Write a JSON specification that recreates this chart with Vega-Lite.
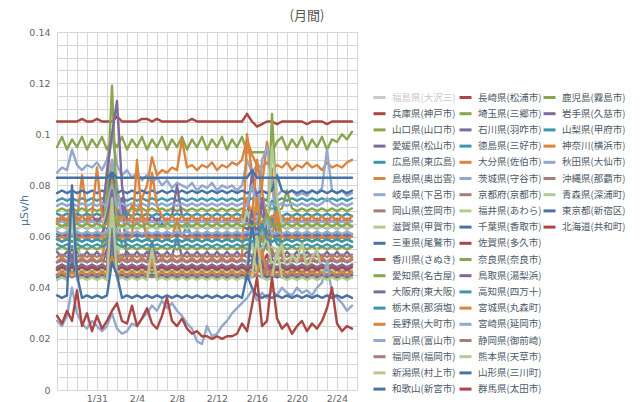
{
"$schema":"https://vega.github.io/schema/vega-lite/v6.json",
"autosize":{"type":"none"},
"padding":{"left":57,"top":32,"right":283,"bottom":12},
"width":300,"height":358,
"background":"white",
"config":{"view":{"stroke":null},"font":"DejaVu Sans"},
"title":{"text":"(月間)","frame":"group","anchor":"middle","dx":100,"offset":4,"font":"Noto Sans CJK JP","fontSize":13,"fontWeight":"normal","color":"#555555"},
"datasets":{
"names":[{"k":"a","name":"兵庫県(神戸市)"},{"k":"b","name":"山口県(山口市)"},{"k":"c","name":"愛媛県(松山市)"},{"k":"d","name":"広島県(東広島)"},{"k":"e","name":"島根県(奥出雲)"},{"k":"f","name":"岐阜県(下呂市)"},{"k":"g","name":"岡山県(笠岡市)"},{"k":"h","name":"滋賀県(甲賀市)"},{"k":"i","name":"三重県(尾鷲市)"},{"k":"j","name":"香川県(さぬき)"},{"k":"k","name":"愛知県(名古屋)"},{"k":"l","name":"大阪府(東大阪)"},{"k":"m","name":"栃木県(那須塩)"},{"k":"n","name":"長野県(大町市)"},{"k":"o","name":"富山県(富山市)"},{"k":"p","name":"福岡県(福岡市)"},{"k":"q","name":"新潟県(村上市)"},{"k":"r","name":"和歌山(新宮市)"},{"k":"s","name":"長崎県(松浦市)"},{"k":"t","name":"埼玉県(三郷市)"},{"k":"u","name":"石川県(羽咋市)"},{"k":"v","name":"徳島県(三好市)"},{"k":"w","name":"大分県(佐伯市)"},{"k":"x","name":"茨城県(守谷市)"},{"k":"y","name":"京都府(京都市)"},{"k":"z","name":"福井県(あわら)"},{"k":"A","name":"千葉県(香取市)"},{"k":"B","name":"佐賀県(多久市)"},{"k":"C","name":"奈良県(奈良市)"},{"k":"D","name":"鳥取県(湯梨浜)"},{"k":"E","name":"高知県(四万十)"},{"k":"F","name":"宮城県(丸森町)"},{"k":"G","name":"宮崎県(延岡市)"},{"k":"H","name":"静岡県(御前崎)"},{"k":"I","name":"熊本県(天草市)"},{"k":"J","name":"山形県(三川町)"},{"k":"K","name":"群馬県(太田市)"},{"k":"L","name":"鹿児島(霧島市)"},{"k":"M","name":"岩手県(久慈市)"},{"k":"N","name":"山梨県(甲府市)"},{"k":"O","name":"神奈川(横浜市)"},{"k":"P","name":"秋田県(大仙市)"},{"k":"Q","name":"沖縄県(那覇市)"},{"k":"R","name":"青森県(深浦町)"},{"k":"S","name":"東京都(新宿区)"},{"k":"T","name":"北海道(共和町)"}],
"rad":[
{"day":27,"a":0.047,"b":0.095,"c":0.054,"d":0.074,"e":0.065,"f":0.085,"g":0.067,"h":0.045,"i":0.063,"j":0.105,"k":0.07,"l":0.05,"m":0.061,"n":0.05,"o":0.065,"p":0.047,"q":0.055,"r":0.077,"s":0.045,"t":0.055,"u":0.066,"v":0.069,"w":0.066,"x":0.072,"y":0.052,"z":0.063,"A":0.083,"B":0.048,"C":0.059,"D":0.06,"E":0.057,"F":0.059,"G":0.062,"H":0.05,"I":0.047,"J":0.044,"K":0.047,"L":0.065,"M":0.048,"N":0.059,"O":0.045,"P":0.027,"Q":0.045,"R":0.043,"S":0.037,"T":0.029},
{"day":27.5,"a":0.049,"b":0.099,"c":0.052,"d":0.075,"e":0.067,"f":0.087,"g":0.066,"h":0.047,"i":0.064,"j":0.105,"k":0.071,"l":0.051,"m":0.06,"n":0.052,"o":0.066,"p":0.046,"q":0.056,"r":0.078,"s":0.046,"t":0.056,"u":0.068,"v":0.068,"w":0.068,"x":0.073,"y":0.053,"z":0.064,"A":0.083,"B":0.049,"C":0.058,"D":0.061,"E":0.056,"F":0.06,"G":0.061,"H":0.051,"I":0.045,"J":0.045,"K":0.048,"L":0.064,"M":0.049,"N":0.058,"O":0.046,"P":0.025,"Q":0.044,"R":0.044,"S":0.036,"T":0.026},
{"day":28,"a":0.047,"b":0.094,"c":0.054,"d":0.074,"e":0.064,"f":0.086,"g":0.067,"h":0.045,"i":0.063,"j":0.105,"k":0.07,"l":0.05,"m":0.061,"n":0.05,"o":0.065,"p":0.047,"q":0.055,"r":0.077,"s":0.045,"t":0.055,"u":0.066,"v":0.069,"w":0.066,"x":0.072,"y":0.052,"z":0.063,"A":0.083,"B":0.048,"C":0.059,"D":0.06,"E":0.057,"F":0.059,"G":0.062,"H":0.05,"I":0.047,"J":0.044,"K":0.047,"L":0.065,"M":0.048,"N":0.059,"O":0.045,"P":0.029,"Q":0.045,"R":0.043,"S":0.037,"T":0.031},
{"day":28.5,"a":0.049,"b":0.098,"c":0.052,"d":0.075,"e":0.07,"f":0.094,"g":0.066,"h":0.047,"i":0.064,"j":0.105,"k":0.071,"l":0.056,"m":0.06,"n":0.052,"o":0.066,"p":0.046,"q":0.056,"r":0.078,"s":0.046,"t":0.056,"u":0.068,"v":0.068,"w":0.072,"x":0.073,"y":0.053,"z":0.064,"A":0.083,"B":0.049,"C":0.058,"D":0.061,"E":0.056,"F":0.066,"G":0.061,"H":0.051,"I":0.045,"J":0.05,"K":0.048,"L":0.064,"M":0.053,"N":0.058,"O":0.046,"P":0.04,"Q":0.044,"R":0.07,"S":0.08,"T":0.027},
{"day":29,"a":0.047,"b":0.095,"c":0.054,"d":0.074,"e":0.066,"f":0.088,"g":0.067,"h":0.06,"i":0.063,"j":0.105,"k":0.07,"l":0.05,"m":0.061,"n":0.05,"o":0.065,"p":0.047,"q":0.055,"r":0.077,"s":0.045,"t":0.055,"u":0.066,"v":0.069,"w":0.066,"x":0.072,"y":0.052,"z":0.063,"A":0.083,"B":0.048,"C":0.059,"D":0.06,"E":0.057,"F":0.059,"G":0.062,"H":0.05,"I":0.047,"J":0.044,"K":0.047,"L":0.065,"M":0.048,"N":0.059,"O":0.045,"P":0.03,"Q":0.045,"R":0.043,"S":0.045,"T":0.039},
{"day":29.5,"a":0.049,"b":0.099,"c":0.052,"d":0.075,"e":0.084,"f":0.086,"g":0.066,"h":0.047,"i":0.064,"j":0.106,"k":0.071,"l":0.051,"m":0.06,"n":0.052,"o":0.066,"p":0.046,"q":0.056,"r":0.078,"s":0.046,"t":0.056,"u":0.068,"v":0.068,"w":0.068,"x":0.073,"y":0.053,"z":0.064,"A":0.083,"B":0.049,"C":0.058,"D":0.061,"E":0.056,"F":0.06,"G":0.061,"H":0.051,"I":0.045,"J":0.045,"K":0.048,"L":0.064,"M":0.049,"N":0.058,"O":0.046,"P":0.026,"Q":0.044,"R":0.044,"S":0.036,"T":0.025},
{"day":30,"a":0.047,"b":0.094,"c":0.054,"d":0.074,"e":0.068,"f":0.088,"g":0.067,"h":0.045,"i":0.063,"j":0.105,"k":0.07,"l":0.05,"m":0.061,"n":0.05,"o":0.065,"p":0.047,"q":0.055,"r":0.077,"s":0.045,"t":0.055,"u":0.066,"v":0.069,"w":0.066,"x":0.072,"y":0.052,"z":0.063,"A":0.083,"B":0.048,"C":0.059,"D":0.06,"E":0.057,"F":0.059,"G":0.062,"H":0.05,"I":0.047,"J":0.044,"K":0.047,"L":0.065,"M":0.048,"N":0.059,"O":0.045,"P":0.024,"Q":0.045,"R":0.043,"S":0.037,"T":0.03},
{"day":30.5,"a":0.049,"b":0.098,"c":0.052,"d":0.075,"e":0.066,"f":0.087,"g":0.066,"h":0.047,"i":0.064,"j":0.105,"k":0.071,"l":0.051,"m":0.06,"n":0.052,"o":0.066,"p":0.046,"q":0.056,"r":0.078,"s":0.046,"t":0.056,"u":0.068,"v":0.068,"w":0.068,"x":0.073,"y":0.053,"z":0.064,"A":0.083,"B":0.049,"C":0.058,"D":0.061,"E":0.056,"F":0.06,"G":0.061,"H":0.051,"I":0.045,"J":0.045,"K":0.048,"L":0.064,"M":0.049,"N":0.058,"O":0.046,"P":0.027,"Q":0.044,"R":0.044,"S":0.036,"T":0.023},
{"day":31,"a":0.047,"b":0.095,"c":0.054,"d":0.074,"e":0.065,"f":0.089,"g":0.067,"h":0.045,"i":0.063,"j":0.106,"k":0.07,"l":0.05,"m":0.061,"n":0.05,"o":0.065,"p":0.047,"q":0.055,"r":0.077,"s":0.045,"t":0.055,"u":0.066,"v":0.069,"w":0.087,"x":0.072,"y":0.052,"z":0.063,"A":0.083,"B":0.048,"C":0.059,"D":0.06,"E":0.057,"F":0.059,"G":0.062,"H":0.05,"I":0.047,"J":0.044,"K":0.047,"L":0.065,"M":0.048,"N":0.059,"O":0.045,"P":0.025,"Q":0.045,"R":0.043,"S":0.037,"T":0.029},
{"day":31.5,"a":0.049,"b":0.099,"c":0.052,"d":0.075,"e":0.068,"f":0.086,"g":0.066,"h":0.047,"i":0.064,"j":0.105,"k":0.071,"l":0.051,"m":0.06,"n":0.052,"o":0.066,"p":0.046,"q":0.056,"r":0.078,"s":0.046,"t":0.056,"u":0.068,"v":0.068,"w":0.068,"x":0.073,"y":0.053,"z":0.064,"A":0.083,"B":0.049,"C":0.058,"D":0.061,"E":0.056,"F":0.06,"G":0.061,"H":0.051,"I":0.045,"J":0.045,"K":0.048,"L":0.064,"M":0.049,"N":0.058,"O":0.046,"P":0.023,"Q":0.044,"R":0.044,"S":0.036,"T":0.024},
{"day":32,"a":0.055,"b":0.094,"c":0.054,"d":0.074,"e":0.075,"f":0.09,"g":0.067,"h":0.088,"i":0.063,"j":0.105,"k":0.07,"l":0.05,"m":0.061,"n":0.06,"o":0.065,"p":0.047,"q":0.07,"r":0.077,"s":0.045,"t":0.075,"u":0.085,"v":0.069,"w":0.066,"x":0.072,"y":0.052,"z":0.07,"A":0.083,"B":0.048,"C":0.059,"D":0.068,"E":0.057,"F":0.059,"G":0.062,"H":0.05,"I":0.047,"J":0.044,"K":0.047,"L":0.065,"M":0.048,"N":0.059,"O":0.045,"P":0.025,"Q":0.045,"R":0.043,"S":0.037,"T":0.027},
{"day":32.5,"a":0.058,"b":0.098,"c":0.068,"d":0.085,"e":0.09,"f":0.1,"g":0.075,"h":0.07,"i":0.064,"j":0.105,"k":0.08,"l":0.07,"m":0.066,"n":0.075,"o":0.09,"p":0.055,"q":0.065,"r":0.085,"s":0.052,"t":0.119,"u":0.1,"v":0.075,"w":0.082,"x":0.08,"y":0.06,"z":0.078,"A":0.085,"B":0.053,"C":0.064,"D":0.078,"E":0.06,"F":0.07,"G":0.066,"H":0.054,"I":0.065,"J":0.06,"K":0.05,"L":0.07,"M":0.062,"N":0.063,"O":0.052,"P":0.03,"Q":0.05,"R":0.075,"S":0.05,"T":0.031},
{"day":33,"a":0.052,"b":0.095,"c":0.054,"d":0.074,"e":0.078,"f":0.088,"g":0.067,"h":0.058,"i":0.063,"j":0.107,"k":0.07,"l":0.065,"m":0.061,"n":0.05,"o":0.08,"p":0.047,"q":0.055,"r":0.077,"s":0.045,"t":0.07,"u":0.113,"v":0.069,"w":0.066,"x":0.072,"y":0.052,"z":0.063,"A":0.083,"B":0.048,"C":0.059,"D":0.06,"E":0.057,"F":0.059,"G":0.062,"H":0.05,"I":0.047,"J":0.044,"K":0.047,"L":0.065,"M":0.048,"N":0.059,"O":0.045,"P":0.024,"Q":0.045,"R":0.043,"S":0.045,"T":0.034},
{"day":33.5,"a":0.049,"b":0.099,"c":0.052,"d":0.075,"e":0.07,"f":0.084,"g":0.066,"h":0.047,"i":0.064,"j":0.105,"k":0.071,"l":0.075,"m":0.06,"n":0.052,"o":0.066,"p":0.046,"q":0.056,"r":0.078,"s":0.046,"t":0.056,"u":0.08,"v":0.068,"w":0.068,"x":0.073,"y":0.053,"z":0.064,"A":0.083,"B":0.049,"C":0.058,"D":0.061,"E":0.056,"F":0.06,"G":0.061,"H":0.051,"I":0.045,"J":0.045,"K":0.048,"L":0.064,"M":0.049,"N":0.058,"O":0.046,"P":0.022,"Q":0.044,"R":0.044,"S":0.036,"T":0.027},
{"day":34,"a":0.047,"b":0.094,"c":0.054,"d":0.074,"e":0.068,"f":0.086,"g":0.067,"h":0.045,"i":0.063,"j":0.105,"k":0.07,"l":0.05,"m":0.061,"n":0.05,"o":0.065,"p":0.047,"q":0.055,"r":0.077,"s":0.045,"t":0.055,"u":0.066,"v":0.069,"w":0.066,"x":0.072,"y":0.052,"z":0.063,"A":0.083,"B":0.048,"C":0.059,"D":0.06,"E":0.057,"F":0.059,"G":0.062,"H":0.05,"I":0.047,"J":0.044,"K":0.047,"L":0.065,"M":0.048,"N":0.059,"O":0.045,"P":0.023,"Q":0.045,"R":0.043,"S":0.037,"T":0.026},
{"day":34.5,"a":0.049,"b":0.098,"c":0.052,"d":0.075,"e":0.072,"f":0.083,"g":0.066,"h":0.047,"i":0.064,"j":0.105,"k":0.071,"l":0.051,"m":0.06,"n":0.052,"o":0.066,"p":0.046,"q":0.056,"r":0.078,"s":0.046,"t":0.056,"u":0.068,"v":0.068,"w":0.068,"x":0.073,"y":0.053,"z":0.064,"A":0.083,"B":0.049,"C":0.058,"D":0.061,"E":0.056,"F":0.06,"G":0.061,"H":0.051,"I":0.045,"J":0.045,"K":0.048,"L":0.064,"M":0.049,"N":0.058,"O":0.046,"P":0.026,"Q":0.044,"R":0.044,"S":0.036,"T":0.033},
{"day":35,"a":0.047,"b":0.095,"c":0.054,"d":0.074,"e":0.07,"f":0.085,"g":0.067,"h":0.045,"i":0.063,"j":0.105,"k":0.07,"l":0.05,"m":0.061,"n":0.05,"o":0.065,"p":0.047,"q":0.055,"r":0.077,"s":0.045,"t":0.055,"u":0.066,"v":0.069,"w":0.066,"x":0.072,"y":0.052,"z":0.063,"A":0.083,"B":0.048,"C":0.059,"D":0.06,"E":0.057,"F":0.09,"G":0.062,"H":0.05,"I":0.047,"J":0.044,"K":0.047,"L":0.065,"M":0.048,"N":0.059,"O":0.045,"P":0.025,"Q":0.045,"R":0.043,"S":0.037,"T":0.025},
{"day":35.5,"a":0.049,"b":0.099,"c":0.052,"d":0.075,"e":0.075,"f":0.082,"g":0.066,"h":0.047,"i":0.064,"j":0.106,"k":0.071,"l":0.051,"m":0.06,"n":0.052,"o":0.066,"p":0.046,"q":0.056,"r":0.078,"s":0.046,"t":0.056,"u":0.068,"v":0.068,"w":0.068,"x":0.073,"y":0.053,"z":0.064,"A":0.083,"B":0.049,"C":0.058,"D":0.061,"E":0.056,"F":0.068,"G":0.061,"H":0.051,"I":0.045,"J":0.045,"K":0.048,"L":0.064,"M":0.049,"N":0.058,"O":0.046,"P":0.028,"Q":0.044,"R":0.044,"S":0.036,"T":0.028},
{"day":36,"a":0.047,"b":0.094,"c":0.054,"d":0.074,"e":0.08,"f":0.084,"g":0.067,"h":0.045,"i":0.063,"j":0.106,"k":0.07,"l":0.05,"m":0.061,"n":0.05,"o":0.065,"p":0.047,"q":0.055,"r":0.077,"s":0.045,"t":0.055,"u":0.066,"v":0.069,"w":0.066,"x":0.072,"y":0.052,"z":0.063,"A":0.083,"B":0.048,"C":0.059,"D":0.06,"E":0.057,"F":0.059,"G":0.062,"H":0.05,"I":0.047,"J":0.044,"K":0.047,"L":0.065,"M":0.048,"N":0.059,"O":0.045,"P":0.03,"Q":0.045,"R":0.043,"S":0.037,"T":0.032},
{"day":36.5,"a":0.049,"b":0.098,"c":0.052,"d":0.075,"e":0.091,"f":0.081,"g":0.066,"h":0.047,"i":0.064,"j":0.105,"k":0.071,"l":0.058,"m":0.06,"n":0.052,"o":0.066,"p":0.046,"q":0.056,"r":0.078,"s":0.046,"t":0.056,"u":0.068,"v":0.068,"w":0.085,"x":0.073,"y":0.053,"z":0.064,"A":0.083,"B":0.049,"C":0.058,"D":0.061,"E":0.056,"F":0.06,"G":0.061,"H":0.051,"I":0.045,"J":0.045,"K":0.048,"L":0.064,"M":0.049,"N":0.058,"O":0.05,"P":0.033,"Q":0.044,"R":0.055,"S":0.036,"T":0.026},
{"day":37,"a":0.047,"b":0.095,"c":0.054,"d":0.074,"e":0.084,"f":0.083,"g":0.067,"h":0.045,"i":0.063,"j":0.106,"k":0.07,"l":0.05,"m":0.061,"n":0.05,"o":0.065,"p":0.047,"q":0.055,"r":0.077,"s":0.045,"t":0.055,"u":0.066,"v":0.069,"w":0.072,"x":0.072,"y":0.052,"z":0.063,"A":0.083,"B":0.048,"C":0.059,"D":0.06,"E":0.057,"F":0.059,"G":0.062,"H":0.05,"I":0.047,"J":0.044,"K":0.047,"L":0.065,"M":0.048,"N":0.059,"O":0.045,"P":0.031,"Q":0.045,"R":0.043,"S":0.037,"T":0.024},
{"day":37.5,"a":0.049,"b":0.099,"c":0.052,"d":0.075,"e":0.086,"f":0.08,"g":0.066,"h":0.047,"i":0.065,"j":0.105,"k":0.071,"l":0.051,"m":0.06,"n":0.052,"o":0.066,"p":0.046,"q":0.056,"r":0.078,"s":0.046,"t":0.056,"u":0.068,"v":0.068,"w":0.068,"x":0.073,"y":0.053,"z":0.064,"A":0.083,"B":0.049,"C":0.058,"D":0.061,"E":0.056,"F":0.06,"G":0.061,"H":0.051,"I":0.045,"J":0.045,"K":0.048,"L":0.064,"M":0.049,"N":0.058,"O":0.046,"P":0.035,"Q":0.044,"R":0.044,"S":0.036,"T":0.029},
{"day":38,"a":0.047,"b":0.094,"c":0.054,"d":0.074,"e":0.085,"f":0.082,"g":0.067,"h":0.045,"i":0.063,"j":0.105,"k":0.07,"l":0.05,"m":0.061,"n":0.05,"o":0.065,"p":0.047,"q":0.055,"r":0.077,"s":0.045,"t":0.055,"u":0.066,"v":0.069,"w":0.066,"x":0.072,"y":0.052,"z":0.063,"A":0.083,"B":0.048,"C":0.059,"D":0.06,"E":0.057,"F":0.059,"G":0.062,"H":0.05,"I":0.047,"J":0.044,"K":0.047,"L":0.065,"M":0.048,"N":0.059,"O":0.045,"P":0.032,"Q":0.045,"R":0.043,"S":0.037,"T":0.036},
{"day":38.5,"a":0.049,"b":0.098,"c":0.052,"d":0.075,"e":0.087,"f":0.079,"g":0.066,"h":0.047,"i":0.064,"j":0.105,"k":0.071,"l":0.051,"m":0.06,"n":0.052,"o":0.066,"p":0.046,"q":0.056,"r":0.078,"s":0.046,"t":0.056,"u":0.068,"v":0.068,"w":0.068,"x":0.073,"y":0.053,"z":0.064,"A":0.083,"B":0.049,"C":0.058,"D":0.061,"E":0.056,"F":0.06,"G":0.061,"H":0.051,"I":0.045,"J":0.045,"K":0.048,"L":0.064,"M":0.049,"N":0.058,"O":0.046,"P":0.034,"Q":0.044,"R":0.044,"S":0.036,"T":0.027},
{"day":39,"a":0.047,"b":0.095,"c":0.06,"d":0.074,"e":0.086,"f":0.081,"g":0.067,"h":0.045,"i":0.063,"j":0.105,"k":0.07,"l":0.05,"m":0.061,"n":0.05,"o":0.065,"p":0.047,"q":0.055,"r":0.077,"s":0.045,"t":0.055,"u":0.08,"v":0.069,"w":0.066,"x":0.072,"y":0.052,"z":0.063,"A":0.083,"B":0.048,"C":0.059,"D":0.06,"E":0.057,"F":0.066,"G":0.062,"H":0.05,"I":0.047,"J":0.044,"K":0.047,"L":0.065,"M":0.048,"N":0.059,"O":0.045,"P":0.031,"Q":0.045,"R":0.043,"S":0.037,"T":0.025},
{"day":39.5,"a":0.049,"b":0.099,"c":0.052,"d":0.075,"e":0.098,"f":0.08,"g":0.066,"h":0.047,"i":0.064,"j":0.105,"k":0.071,"l":0.051,"m":0.06,"n":0.052,"o":0.066,"p":0.046,"q":0.056,"r":0.078,"s":0.046,"t":0.056,"u":0.068,"v":0.068,"w":0.068,"x":0.073,"y":0.053,"z":0.064,"A":0.083,"B":0.049,"C":0.058,"D":0.061,"E":0.056,"F":0.06,"G":0.061,"H":0.051,"I":0.045,"J":0.045,"K":0.048,"L":0.064,"M":0.049,"N":0.058,"O":0.046,"P":0.029,"Q":0.044,"R":0.044,"S":0.036,"T":0.028},
{"day":40,"a":0.047,"b":0.094,"c":0.054,"d":0.074,"e":0.087,"f":0.079,"g":0.067,"h":0.045,"i":0.063,"j":0.105,"k":0.07,"l":0.05,"m":0.064,"n":0.05,"o":0.065,"p":0.047,"q":0.055,"r":0.077,"s":0.045,"t":0.055,"u":0.066,"v":0.069,"w":0.066,"x":0.072,"y":0.052,"z":0.063,"A":0.083,"B":0.048,"C":0.059,"D":0.06,"E":0.057,"F":0.059,"G":0.062,"H":0.05,"I":0.047,"J":0.044,"K":0.047,"L":0.065,"M":0.048,"N":0.059,"O":0.045,"P":0.026,"Q":0.045,"R":0.043,"S":0.037,"T":0.024},
{"day":40.5,"a":0.049,"b":0.098,"c":0.052,"d":0.075,"e":0.088,"f":0.081,"g":0.066,"h":0.047,"i":0.064,"j":0.106,"k":0.071,"l":0.051,"m":0.06,"n":0.052,"o":0.066,"p":0.046,"q":0.056,"r":0.078,"s":0.046,"t":0.056,"u":0.068,"v":0.068,"w":0.068,"x":0.073,"y":0.053,"z":0.064,"A":0.083,"B":0.049,"C":0.058,"D":0.061,"E":0.056,"F":0.06,"G":0.061,"H":0.051,"I":0.045,"J":0.045,"K":0.048,"L":0.064,"M":0.049,"N":0.058,"O":0.046,"P":0.024,"Q":0.044,"R":0.044,"S":0.036,"T":0.022},
{"day":41,"a":0.047,"b":0.095,"c":0.054,"d":0.074,"e":0.086,"f":0.078,"g":0.067,"h":0.045,"i":0.063,"j":0.105,"k":0.07,"l":0.05,"m":0.061,"n":0.05,"o":0.065,"p":0.047,"q":0.055,"r":0.077,"s":0.045,"t":0.055,"u":0.066,"v":0.069,"w":0.066,"x":0.072,"y":0.052,"z":0.063,"A":0.083,"B":0.048,"C":0.059,"D":0.06,"E":0.057,"F":0.059,"G":0.062,"H":0.05,"I":0.047,"J":0.044,"K":0.047,"L":0.065,"M":0.048,"N":0.059,"O":0.045,"P":0.019,"Q":0.045,"R":0.043,"S":0.037,"T":0.023},
{"day":41.5,"a":0.049,"b":0.099,"c":0.052,"d":0.075,"e":0.088,"f":0.08,"g":0.066,"h":0.047,"i":0.064,"j":0.105,"k":0.071,"l":0.051,"m":0.06,"n":0.052,"o":0.066,"p":0.046,"q":0.056,"r":0.078,"s":0.046,"t":0.056,"u":0.068,"v":0.068,"w":0.068,"x":0.073,"y":0.053,"z":0.064,"A":0.083,"B":0.049,"C":0.058,"D":0.061,"E":0.056,"F":0.06,"G":0.061,"H":0.051,"I":0.045,"J":0.045,"K":0.048,"L":0.064,"M":0.049,"N":0.058,"O":0.046,"P":0.018,"Q":0.044,"R":0.044,"S":0.036,"T":0.021},
{"day":42,"a":0.047,"b":0.094,"c":0.054,"d":0.074,"e":0.087,"f":0.079,"g":0.067,"h":0.045,"i":0.063,"j":0.105,"k":0.07,"l":0.05,"m":0.061,"n":0.05,"o":0.065,"p":0.047,"q":0.055,"r":0.077,"s":0.045,"t":0.055,"u":0.066,"v":0.069,"w":0.066,"x":0.072,"y":0.052,"z":0.063,"A":0.083,"B":0.048,"C":0.059,"D":0.06,"E":0.057,"F":0.059,"G":0.062,"H":0.05,"I":0.047,"J":0.044,"K":0.047,"L":0.065,"M":0.048,"N":0.059,"O":0.045,"P":0.025,"Q":0.045,"R":0.043,"S":0.037,"T":0.021},
{"day":42.5,"a":0.049,"b":0.098,"c":0.052,"d":0.075,"e":0.089,"f":0.081,"g":0.066,"h":0.047,"i":0.064,"j":0.105,"k":0.071,"l":0.051,"m":0.06,"n":0.052,"o":0.066,"p":0.046,"q":0.056,"r":0.078,"s":0.046,"t":0.056,"u":0.068,"v":0.068,"w":0.068,"x":0.073,"y":0.053,"z":0.064,"A":0.083,"B":0.049,"C":0.058,"D":0.061,"E":0.056,"F":0.06,"G":0.061,"H":0.051,"I":0.045,"J":0.045,"K":0.048,"L":0.064,"M":0.049,"N":0.058,"O":0.046,"P":0.021,"Q":0.044,"R":0.044,"S":0.036,"T":0.02},
{"day":43,"a":0.047,"b":0.095,"c":0.054,"d":0.074,"e":0.086,"f":0.078,"g":0.067,"h":0.045,"i":0.063,"j":0.105,"k":0.07,"l":0.05,"m":0.061,"n":0.05,"o":0.065,"p":0.047,"q":0.055,"r":0.077,"s":0.045,"t":0.055,"u":0.066,"v":0.069,"w":0.066,"x":0.072,"y":0.052,"z":0.063,"A":0.083,"B":0.048,"C":0.059,"D":0.06,"E":0.057,"F":0.059,"G":0.062,"H":0.05,"I":0.047,"J":0.044,"K":0.047,"L":0.065,"M":0.048,"N":0.059,"O":0.045,"P":0.022,"Q":0.045,"R":0.043,"S":0.037,"T":0.021},
{"day":43.5,"a":0.049,"b":0.099,"c":0.052,"d":0.075,"e":0.088,"f":0.08,"g":0.066,"h":0.047,"i":0.064,"j":0.105,"k":0.071,"l":0.051,"m":0.06,"n":0.052,"o":0.066,"p":0.046,"q":0.056,"r":0.078,"s":0.046,"t":0.056,"u":0.068,"v":0.068,"w":0.068,"x":0.073,"y":0.053,"z":0.064,"A":0.083,"B":0.049,"C":0.058,"D":0.061,"E":0.056,"F":0.06,"G":0.061,"H":0.051,"I":0.045,"J":0.045,"K":0.048,"L":0.064,"M":0.049,"N":0.058,"O":0.046,"P":0.025,"Q":0.044,"R":0.044,"S":0.036,"T":0.02},
{"day":44,"a":0.047,"b":0.094,"c":0.054,"d":0.074,"e":0.087,"f":0.079,"g":0.067,"h":0.045,"i":0.063,"j":0.105,"k":0.07,"l":0.05,"m":0.061,"n":0.05,"o":0.065,"p":0.047,"q":0.055,"r":0.077,"s":0.045,"t":0.055,"u":0.066,"v":0.069,"w":0.066,"x":0.072,"y":0.052,"z":0.063,"A":0.083,"B":0.048,"C":0.059,"D":0.06,"E":0.057,"F":0.059,"G":0.062,"H":0.05,"I":0.047,"J":0.044,"K":0.047,"L":0.065,"M":0.048,"N":0.059,"O":0.045,"P":0.027,"Q":0.045,"R":0.043,"S":0.037,"T":0.021},
{"day":44.5,"a":0.049,"b":0.098,"c":0.052,"d":0.075,"e":0.089,"f":0.08,"g":0.066,"h":0.047,"i":0.064,"j":0.105,"k":0.071,"l":0.051,"m":0.06,"n":0.052,"o":0.066,"p":0.046,"q":0.056,"r":0.078,"s":0.046,"t":0.056,"u":0.068,"v":0.068,"w":0.068,"x":0.073,"y":0.053,"z":0.064,"A":0.083,"B":0.049,"C":0.058,"D":0.061,"E":0.056,"F":0.06,"G":0.061,"H":0.051,"I":0.045,"J":0.045,"K":0.048,"L":0.064,"M":0.049,"N":0.058,"O":0.046,"P":0.03,"Q":0.044,"R":0.044,"S":0.036,"T":0.021},
{"day":45,"a":0.047,"b":0.095,"c":0.054,"d":0.074,"e":0.088,"f":0.078,"g":0.067,"h":0.045,"i":0.063,"j":0.105,"k":0.07,"l":0.05,"m":0.061,"n":0.05,"o":0.065,"p":0.047,"q":0.055,"r":0.077,"s":0.045,"t":0.055,"u":0.066,"v":0.069,"w":0.066,"x":0.072,"y":0.052,"z":0.063,"A":0.083,"B":0.048,"C":0.059,"D":0.06,"E":0.057,"F":0.059,"G":0.062,"H":0.05,"I":0.047,"J":0.044,"K":0.047,"L":0.065,"M":0.048,"N":0.059,"O":0.045,"P":0.032,"Q":0.045,"R":0.043,"S":0.037,"T":0.022},
{"day":45.5,"a":0.049,"b":0.099,"c":0.052,"d":0.075,"e":0.09,"f":0.08,"g":0.066,"h":0.047,"i":0.064,"j":0.105,"k":0.071,"l":0.051,"m":0.06,"n":0.052,"o":0.066,"p":0.046,"q":0.056,"r":0.078,"s":0.046,"t":0.056,"u":0.068,"v":0.068,"w":0.068,"x":0.073,"y":0.053,"z":0.064,"A":0.083,"B":0.049,"C":0.058,"D":0.061,"E":0.056,"F":0.06,"G":0.061,"H":0.051,"I":0.045,"J":0.045,"K":0.048,"L":0.064,"M":0.049,"N":0.058,"O":0.046,"P":0.034,"Q":0.044,"R":0.044,"S":0.036,"T":0.026},
{"day":46,"a":0.047,"b":0.093,"c":0.054,"d":0.074,"e":0.098,"f":0.09,"g":0.067,"h":0.045,"i":0.063,"j":0.108,"k":0.07,"l":0.05,"m":0.061,"n":0.1,"o":0.065,"p":0.047,"q":0.055,"r":0.077,"s":0.045,"t":0.055,"u":0.066,"v":0.069,"w":0.075,"x":0.072,"y":0.052,"z":0.07,"A":0.083,"B":0.048,"C":0.059,"D":0.06,"E":0.057,"F":0.059,"G":0.062,"H":0.05,"I":0.05,"J":0.044,"K":0.047,"L":0.065,"M":0.048,"N":0.059,"O":0.045,"P":0.036,"Q":0.045,"R":0.043,"S":0.045,"T":0.023},
{"day":46.5,"a":0.049,"b":0.093,"c":0.052,"d":0.075,"e":0.092,"f":0.085,"g":0.066,"h":0.047,"i":0.064,"j":0.105,"k":0.071,"l":0.051,"m":0.06,"n":0.085,"o":0.066,"p":0.046,"q":0.062,"r":0.078,"s":0.046,"t":0.056,"u":0.085,"v":0.068,"w":0.068,"x":0.08,"y":0.053,"z":0.064,"A":0.086,"B":0.049,"C":0.058,"D":0.07,"E":0.056,"F":0.06,"G":0.061,"H":0.051,"I":0.058,"J":0.066,"K":0.048,"L":0.064,"M":0.049,"N":0.058,"O":0.046,"P":0.039,"Q":0.044,"R":0.044,"S":0.04,"T":0.033},
{"day":47,"a":0.055,"b":0.093,"c":0.054,"d":0.074,"e":0.088,"f":0.088,"g":0.067,"h":0.058,"i":0.063,"j":0.103,"k":0.07,"l":0.05,"m":0.061,"n":0.07,"o":0.065,"p":0.047,"q":0.055,"r":0.077,"s":0.05,"t":0.055,"u":0.075,"v":0.069,"w":0.09,"x":0.072,"y":0.052,"z":0.075,"A":0.083,"B":0.052,"C":0.059,"D":0.06,"E":0.057,"F":0.075,"G":0.062,"H":0.05,"I":0.046,"J":0.05,"K":0.055,"L":0.065,"M":0.058,"N":0.059,"O":0.045,"P":0.035,"Q":0.045,"R":0.06,"S":0.037,"T":0.044},
{"day":47.5,"a":0.049,"b":0.093,"c":0.052,"d":0.075,"e":0.087,"f":0.078,"g":0.066,"h":0.047,"i":0.064,"j":0.104,"k":0.071,"l":0.062,"m":0.06,"n":0.08,"o":0.09,"p":0.046,"q":0.065,"r":0.078,"s":0.046,"t":0.065,"u":0.068,"v":0.068,"w":0.078,"x":0.073,"y":0.053,"z":0.064,"A":0.083,"B":0.049,"C":0.058,"D":0.075,"E":0.056,"F":0.06,"G":0.061,"H":0.051,"I":0.055,"J":0.045,"K":0.048,"L":0.064,"M":0.049,"N":0.065,"O":0.055,"P":0.038,"Q":0.044,"R":0.044,"S":0.036,"T":0.025},
{"day":48,"a":0.053,"b":0.093,"c":0.066,"d":0.074,"e":0.089,"f":0.077,"g":0.067,"h":0.045,"i":0.063,"j":0.105,"k":0.07,"l":0.07,"m":0.061,"n":0.097,"o":0.095,"p":0.05,"q":0.055,"r":0.077,"s":0.045,"t":0.055,"u":0.066,"v":0.069,"w":0.066,"x":0.072,"y":0.058,"z":0.063,"A":0.083,"B":0.048,"C":0.062,"D":0.06,"E":0.057,"F":0.059,"G":0.067,"H":0.05,"I":0.06,"J":0.044,"K":0.047,"L":0.069,"M":0.048,"N":0.059,"O":0.045,"P":0.036,"Q":0.048,"R":0.043,"S":0.037,"T":0.027},
{"day":48.5,"a":0.049,"b":0.093,"c":0.052,"d":0.082,"e":0.086,"f":0.079,"g":0.066,"h":0.047,"i":0.064,"j":0.105,"k":0.071,"l":0.051,"m":0.068,"n":0.085,"o":0.08,"p":0.046,"q":0.056,"r":0.078,"s":0.046,"t":0.108,"u":0.068,"v":0.074,"w":0.068,"x":0.073,"y":0.053,"z":0.095,"A":0.083,"B":0.049,"C":0.058,"D":0.061,"E":0.062,"F":0.06,"G":0.061,"H":0.055,"I":0.048,"J":0.045,"K":0.048,"L":0.064,"M":0.049,"N":0.058,"O":0.046,"P":0.039,"Q":0.044,"R":0.044,"S":0.036,"T":0.044},
{"day":49,"a":0.047,"b":0.097,"c":0.054,"d":0.074,"e":0.088,"f":0.076,"g":0.072,"h":0.045,"i":0.068,"j":0.104,"k":0.07,"l":0.05,"m":0.061,"n":0.065,"o":0.065,"p":0.047,"q":0.055,"r":0.084,"s":0.045,"t":0.07,"u":0.066,"v":0.069,"w":0.066,"x":0.072,"y":0.052,"z":0.075,"A":0.083,"B":0.048,"C":0.059,"D":0.06,"E":0.057,"F":0.07,"G":0.062,"H":0.05,"I":0.052,"J":0.044,"K":0.047,"L":0.065,"M":0.048,"N":0.059,"O":0.045,"P":0.037,"Q":0.045,"R":0.055,"S":0.037,"T":0.028},
{"day":49.5,"a":0.049,"b":0.099,"c":0.052,"d":0.075,"e":0.087,"f":0.078,"g":0.066,"h":0.047,"i":0.064,"j":0.105,"k":0.071,"l":0.051,"m":0.06,"n":0.052,"o":0.066,"p":0.046,"q":0.056,"r":0.078,"s":0.046,"t":0.056,"u":0.068,"v":0.068,"w":0.068,"x":0.073,"y":0.053,"z":0.064,"A":0.083,"B":0.049,"C":0.058,"D":0.061,"E":0.056,"F":0.06,"G":0.061,"H":0.051,"I":0.057,"J":0.045,"K":0.048,"L":0.064,"M":0.049,"N":0.058,"O":0.046,"P":0.04,"Q":0.044,"R":0.044,"S":0.036,"T":0.024},
{"day":50,"a":0.047,"b":0.094,"c":0.054,"d":0.074,"e":0.089,"f":0.077,"g":0.067,"h":0.045,"i":0.063,"j":0.105,"k":0.078,"l":0.05,"m":0.061,"n":0.05,"o":0.065,"p":0.047,"q":0.055,"r":0.077,"s":0.045,"t":0.055,"u":0.066,"v":0.069,"w":0.066,"x":0.072,"y":0.052,"z":0.063,"A":0.083,"B":0.048,"C":0.059,"D":0.06,"E":0.057,"F":0.059,"G":0.062,"H":0.05,"I":0.045,"J":0.044,"K":0.047,"L":0.065,"M":0.048,"N":0.059,"O":0.045,"P":0.038,"Q":0.045,"R":0.043,"S":0.037,"T":0.026},
{"day":50.5,"a":0.049,"b":0.098,"c":0.052,"d":0.075,"e":0.086,"f":0.078,"g":0.066,"h":0.047,"i":0.064,"j":0.105,"k":0.071,"l":0.051,"m":0.06,"n":0.052,"o":0.066,"p":0.046,"q":0.056,"r":0.078,"s":0.046,"t":0.056,"u":0.068,"v":0.068,"w":0.068,"x":0.073,"y":0.053,"z":0.064,"A":0.083,"B":0.049,"C":0.058,"D":0.061,"E":0.056,"F":0.06,"G":0.061,"H":0.051,"I":0.053,"J":0.045,"K":0.048,"L":0.064,"M":0.049,"N":0.058,"O":0.046,"P":0.037,"Q":0.044,"R":0.044,"S":0.036,"T":0.022},
{"day":51,"a":0.047,"b":0.095,"c":0.054,"d":0.074,"e":0.088,"f":0.076,"g":0.067,"h":0.045,"i":0.063,"j":0.105,"k":0.07,"l":0.05,"m":0.061,"n":0.05,"o":0.065,"p":0.047,"q":0.055,"r":0.077,"s":0.045,"t":0.055,"u":0.066,"v":0.069,"w":0.066,"x":0.072,"y":0.052,"z":0.063,"A":0.083,"B":0.048,"C":0.059,"D":0.06,"E":0.057,"F":0.059,"G":0.062,"H":0.05,"I":0.05,"J":0.044,"K":0.047,"L":0.065,"M":0.048,"N":0.059,"O":0.045,"P":0.04,"Q":0.045,"R":0.043,"S":0.037,"T":0.025},
{"day":51.5,"a":0.049,"b":0.099,"c":0.052,"d":0.075,"e":0.087,"f":0.077,"g":0.066,"h":0.047,"i":0.064,"j":0.105,"k":0.071,"l":0.051,"m":0.06,"n":0.052,"o":0.066,"p":0.046,"q":0.056,"r":0.078,"s":0.046,"t":0.056,"u":0.068,"v":0.068,"w":0.068,"x":0.073,"y":0.053,"z":0.064,"A":0.083,"B":0.049,"C":0.058,"D":0.061,"E":0.056,"F":0.06,"G":0.061,"H":0.051,"I":0.058,"J":0.045,"K":0.048,"L":0.064,"M":0.049,"N":0.058,"O":0.046,"P":0.038,"Q":0.044,"R":0.044,"S":0.036,"T":0.027},
{"day":52,"a":0.047,"b":0.094,"c":0.054,"d":0.074,"e":0.089,"f":0.076,"g":0.067,"h":0.045,"i":0.063,"j":0.104,"k":0.07,"l":0.05,"m":0.061,"n":0.05,"o":0.065,"p":0.047,"q":0.055,"r":0.077,"s":0.045,"t":0.055,"u":0.066,"v":0.069,"w":0.066,"x":0.072,"y":0.052,"z":0.063,"A":0.083,"B":0.048,"C":0.059,"D":0.06,"E":0.057,"F":0.059,"G":0.062,"H":0.05,"I":0.047,"J":0.044,"K":0.047,"L":0.065,"M":0.048,"N":0.059,"O":0.045,"P":0.039,"Q":0.045,"R":0.043,"S":0.037,"T":0.023},
{"day":52.5,"a":0.049,"b":0.098,"c":0.052,"d":0.075,"e":0.087,"f":0.078,"g":0.066,"h":0.047,"i":0.064,"j":0.105,"k":0.071,"l":0.051,"m":0.06,"n":0.052,"o":0.066,"p":0.046,"q":0.056,"r":0.078,"s":0.046,"t":0.056,"u":0.068,"v":0.068,"w":0.068,"x":0.073,"y":0.053,"z":0.064,"A":0.083,"B":0.049,"C":0.058,"D":0.061,"E":0.056,"F":0.06,"G":0.061,"H":0.051,"I":0.052,"J":0.045,"K":0.048,"L":0.064,"M":0.049,"N":0.058,"O":0.046,"P":0.037,"Q":0.044,"R":0.044,"S":0.036,"T":0.026},
{"day":53,"a":0.047,"b":0.095,"c":0.054,"d":0.074,"e":0.088,"f":0.077,"g":0.067,"h":0.045,"i":0.063,"j":0.105,"k":0.07,"l":0.05,"m":0.061,"n":0.05,"o":0.065,"p":0.047,"q":0.055,"r":0.077,"s":0.045,"t":0.055,"u":0.066,"v":0.069,"w":0.066,"x":0.072,"y":0.052,"z":0.063,"A":0.083,"B":0.048,"C":0.059,"D":0.06,"E":0.057,"F":0.059,"G":0.062,"H":0.05,"I":0.055,"J":0.044,"K":0.047,"L":0.065,"M":0.048,"N":0.059,"O":0.045,"P":0.04,"Q":0.045,"R":0.043,"S":0.037,"T":0.024},
{"day":53.5,"a":0.049,"b":0.099,"c":0.052,"d":0.075,"e":0.086,"f":0.079,"g":0.066,"h":0.047,"i":0.064,"j":0.105,"k":0.071,"l":0.051,"m":0.06,"n":0.052,"o":0.066,"p":0.046,"q":0.056,"r":0.078,"s":0.046,"t":0.056,"u":0.068,"v":0.068,"w":0.068,"x":0.073,"y":0.053,"z":0.064,"A":0.083,"B":0.049,"C":0.058,"D":0.061,"E":0.056,"F":0.06,"G":0.061,"H":0.051,"I":0.046,"J":0.045,"K":0.048,"L":0.064,"M":0.049,"N":0.058,"O":0.046,"P":0.042,"Q":0.044,"R":0.044,"S":0.036,"T":0.027},
{"day":54,"a":0.047,"b":0.094,"c":0.054,"d":0.074,"e":0.089,"f":0.094,"g":0.067,"h":0.045,"i":0.063,"j":0.104,"k":0.07,"l":0.05,"m":0.061,"n":0.05,"o":0.065,"p":0.047,"q":0.055,"r":0.077,"s":0.045,"t":0.055,"u":0.066,"v":0.069,"w":0.066,"x":0.075,"y":0.052,"z":0.063,"A":0.083,"B":0.048,"C":0.059,"D":0.06,"E":0.057,"F":0.059,"G":0.062,"H":0.05,"I":0.05,"J":0.044,"K":0.047,"L":0.065,"M":0.048,"N":0.059,"O":0.045,"P":0.05,"Q":0.045,"R":0.043,"S":0.037,"T":0.032},
{"day":54.5,"a":0.049,"b":0.098,"c":0.052,"d":0.075,"e":0.087,"f":0.078,"g":0.066,"h":0.047,"i":0.064,"j":0.105,"k":0.071,"l":0.051,"m":0.06,"n":0.052,"o":0.066,"p":0.046,"q":0.056,"r":0.078,"s":0.046,"t":0.056,"u":0.068,"v":0.068,"w":0.068,"x":0.073,"y":0.053,"z":0.064,"A":0.083,"B":0.049,"C":0.058,"D":0.061,"E":0.056,"F":0.06,"G":0.061,"H":0.051,"I":0.047,"J":0.045,"K":0.048,"L":0.064,"M":0.049,"N":0.058,"O":0.046,"P":0.038,"Q":0.044,"R":0.044,"S":0.036,"T":0.04},
{"day":55,"a":0.047,"b":0.097,"c":0.054,"d":0.074,"e":0.088,"f":0.077,"g":0.067,"h":0.045,"i":0.063,"j":0.105,"k":0.07,"l":0.05,"m":0.061,"n":0.05,"o":0.065,"p":0.047,"q":0.055,"r":0.077,"s":0.045,"t":0.055,"u":0.066,"v":0.069,"w":0.066,"x":0.072,"y":0.052,"z":0.063,"A":0.083,"B":0.048,"C":0.059,"D":0.06,"E":0.057,"F":0.059,"G":0.062,"H":0.05,"I":0.045,"J":0.044,"K":0.047,"L":0.065,"M":0.048,"N":0.059,"O":0.045,"P":0.036,"Q":0.045,"R":0.043,"S":0.037,"T":0.026},
{"day":55.5,"a":0.049,"b":0.1,"c":0.052,"d":0.075,"e":0.087,"f":0.078,"g":0.066,"h":0.047,"i":0.064,"j":0.105,"k":0.071,"l":0.051,"m":0.06,"n":0.052,"o":0.066,"p":0.046,"q":0.056,"r":0.078,"s":0.046,"t":0.056,"u":0.068,"v":0.068,"w":0.068,"x":0.073,"y":0.053,"z":0.064,"A":0.083,"B":0.049,"C":0.058,"D":0.061,"E":0.056,"F":0.06,"G":0.061,"H":0.051,"I":0.046,"J":0.045,"K":0.048,"L":0.064,"M":0.049,"N":0.058,"O":0.046,"P":0.034,"Q":0.044,"R":0.044,"S":0.036,"T":0.023},
{"day":56,"a":0.047,"b":0.098,"c":0.054,"d":0.074,"e":0.089,"f":0.076,"g":0.067,"h":0.045,"i":0.063,"j":0.105,"k":0.07,"l":0.05,"m":0.061,"n":0.05,"o":0.065,"p":0.047,"q":0.055,"r":0.077,"s":0.045,"t":0.055,"u":0.066,"v":0.069,"w":0.066,"x":0.072,"y":0.052,"z":0.063,"A":0.083,"B":0.048,"C":0.059,"D":0.06,"E":0.057,"F":0.059,"G":0.062,"H":0.05,"I":0.044,"J":0.044,"K":0.047,"L":0.065,"M":0.048,"N":0.059,"O":0.045,"P":0.031,"Q":0.045,"R":0.043,"S":0.037,"T":0.025},
{"day":56.5,"a":0.049,"b":0.101,"c":0.052,"d":0.075,"e":0.09,"f":0.077,"g":0.066,"h":0.047,"i":0.064,"j":0.105,"k":0.071,"l":0.051,"m":0.06,"n":0.052,"o":0.066,"p":0.046,"q":0.056,"r":0.078,"s":0.046,"t":0.056,"u":0.068,"v":0.068,"w":0.068,"x":0.073,"y":0.053,"z":0.064,"A":0.083,"B":0.049,"C":0.058,"D":0.061,"E":0.056,"F":0.06,"G":0.061,"H":0.051,"I":0.045,"J":0.045,"K":0.048,"L":0.064,"M":0.049,"N":0.058,"O":0.046,"P":0.033,"Q":0.044,"R":0.044,"S":0.036,"T":0.024}
]},
"data":{"name":"rad"},
"transform":[
{"fold":["a","b","c","d","e","f","g","h","i","j","k","l","m","n","o","p","q","r","s","t","u","v","w","x","y","z","A","B","C","D","E","F","G","H","I","J","K","L","M","N","O","P","Q","R","S","T"],"as":["k","v"]},
{"lookup":"k","from":{"data":{"name":"names"},"key":"k","fields":["name"]}}
],
"encoding":{
"x":{"field":"day","type":"quantitative","scale":{"domain":[27,57],"nice":false,"zero":false},
"axis":{"title":null,"values":[27,28,29,30,31,32,33,34,35,36,37,38,39,40,41,42,43,44,45,46,47,48,49,50,51,52,53,54,55,56,57],"labelExpr":"(datum.value>=31 && (datum.value-31)%4==0) ? (datum.value==31 ? '1/31' : '2/'+(datum.value-31)) : ''","grid":true,"gridColor":"#d6d6d6","gridWidth":1,"ticks":false,"domain":false,"labelFont":"DejaVu Sans","labelFontSize":9.5,"labelColor":"#666666","labelPadding":3,"labelFlush":false,"labelOverlap":false}},
"y":{"field":"v","type":"quantitative","scale":{"domain":[0,0.14],"nice":false},
"axis":{"title":"μSv/h","titleX":-28,"titleY":178,"titleColor":"#4d759e","titleFont":"DejaVu Sans","titleFontSize":11,"titleFontWeight":"normal","values":[0,0.005,0.01,0.015,0.02,0.025,0.03,0.035,0.04,0.045,0.05,0.055,0.06,0.065,0.07,0.075,0.08,0.085,0.09,0.095,0.1,0.105,0.11,0.115,0.12,0.125,0.13,0.135,0.14],"format":"~g","labelExpr":"round(datum.value*1000)%20==0 ? datum.label : ''","grid":true,"gridColor":"#d6d6d6","gridWidth":1,"ticks":false,"domain":false,"labelFont":"DejaVu Sans","labelFontSize":9.5,"labelColor":"#666666","labelPadding":7,"labelOverlap":false}}
},
"layer":[
{"transform":[{"filter":{"field":"k","oneOf":["a","b","c","d","e","f","g","h","i","j","k","l","m","n","o","p","q","r"]}}],
"mark":{"type":"line","strokeWidth":2.4,"strokeJoin":"round","strokeCap":"round"},
"encoding":{"color":{"field":"name","type":"nominal",
"scale":{"domain":["福島県(大沢三)","兵庫県(神戸市)","山口県(山口市)","愛媛県(松山市)","広島県(東広島)","島根県(奥出雲)","岐阜県(下呂市)","岡山県(笠岡市)","滋賀県(甲賀市)","三重県(尾鷲市)","香川県(さぬき)","愛知県(名古屋)","大阪府(東大阪)","栃木県(那須塩)","長野県(大町市)","富山県(富山市)","福岡県(福岡市)","新潟県(村上市)","和歌山(新宮市)"],
"range":["#c8c8c8","#AA4643","#89A54E","#80699B","#3D96AE","#DB843D","#92A8CD","#A47D7C","#B5CA92","#4572A7","#AA4643","#89A54E","#80699B","#3D96AE","#DB843D","#92A8CD","#A47D7C","#B5CA92","#4572A7"]},
"legend":{"orient":"none","legendX":315,"legendY":58,"title":null,"symbolType":"stroke","symbolStrokeWidth":3,"symbolSize":144,"labelFont":"Noto Sans CJK JP","labelFontSize":9.5,"labelColor":"#4d5a66","rowPadding":2.2,"labelOffset":5,"labelLimit":0,
"encode":{"labels":{"update":{"fill":{"signal":"datum.value=='福島県(大沢三)' ? '#c8c8c8' : '#4d5a66'"}}}}}}}},
{"transform":[{"filter":{"field":"k","oneOf":["s","t","u","v","w","x","y","z","A","B","C","D","E","F","G","H","I","J","K"]}}],
"mark":{"type":"line","strokeWidth":2.4,"strokeJoin":"round","strokeCap":"round"},
"encoding":{"color":{"field":"name","type":"nominal",
"scale":{"domain":["長崎県(松浦市)","埼玉県(三郷市)","石川県(羽咋市)","徳島県(三好市)","大分県(佐伯市)","茨城県(守谷市)","京都府(京都市)","福井県(あわら)","千葉県(香取市)","佐賀県(多久市)","奈良県(奈良市)","鳥取県(湯梨浜)","高知県(四万十)","宮城県(丸森町)","宮崎県(延岡市)","静岡県(御前崎)","熊本県(天草市)","山形県(三川町)","群馬県(太田市)"],
"range":["#AA4643","#89A54E","#80699B","#3D96AE","#DB843D","#92A8CD","#A47D7C","#B5CA92","#4572A7","#AA4643","#89A54E","#80699B","#3D96AE","#DB843D","#92A8CD","#A47D7C","#B5CA92","#4572A7","#AA4643"]},
"legend":{"orient":"none","legendX":401,"legendY":58,"title":null,"symbolType":"stroke","symbolStrokeWidth":3,"symbolSize":144,"labelFont":"Noto Sans CJK JP","labelFontSize":9.5,"labelColor":"#4d5a66","rowPadding":2.2,"labelOffset":5,"labelLimit":0}}}},
{"transform":[{"filter":{"field":"k","oneOf":["L","M","N","O","P","Q","R","S","T"]}}],
"mark":{"type":"line","strokeWidth":2.4,"strokeJoin":"round","strokeCap":"round"},
"encoding":{"color":{"field":"name","type":"nominal",
"scale":{"domain":["鹿児島(霧島市)","岩手県(久慈市)","山梨県(甲府市)","神奈川(横浜市)","秋田県(大仙市)","沖縄県(那覇市)","青森県(深浦町)","東京都(新宿区)","北海道(共和町)"],
"range":["#89A54E","#80699B","#3D96AE","#DB843D","#92A8CD","#A47D7C","#B5CA92","#4572A7","#AA4643"]},
"legend":{"orient":"none","legendX":485,"legendY":58,"title":null,"symbolType":"stroke","symbolStrokeWidth":3,"symbolSize":144,"labelFont":"Noto Sans CJK JP","labelFontSize":9.5,"labelColor":"#4d5a66","rowPadding":2.2,"labelOffset":5,"labelLimit":0}}}}
],
"resolve":{"scale":{"color":"independent"}}
}
